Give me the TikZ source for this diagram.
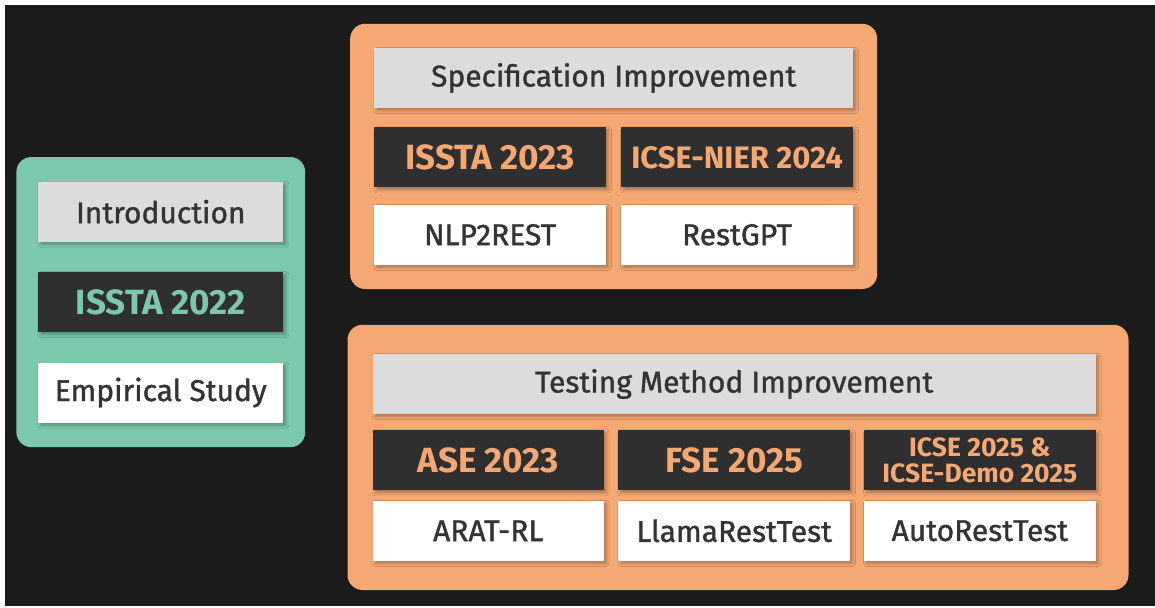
\documentclass[tikz,border=0pt]{standalone}
\usepackage{fontspec}
\setmainfont{Fira Sans}
\usetikzlibrary{positioning,fit,backgrounds,shadows.blur}

\definecolor{bgdark}{HTML}{1B1B1B}
\definecolor{mint}{HTML}{7CC8AD}
\definecolor{peach}{HTML}{F5A874}
\definecolor{lightgrey}{HTML}{DCDCDC}
\definecolor{boxdark}{HTML}{2E2F2E}
\definecolor{textdark}{HTML}{333333}

\begin{document}
\begin{tikzpicture}
  [x=1pt, y=-1pt,
   card/.style={rectangle, minimum height=60pt, inner sep=0pt, text=textdark,
     font=\fontsize{30}{34}\selectfont\addfontfeatures{FakeBold=1.2},
     blur shadow={shadow xshift=2.5pt, shadow yshift=-2.5pt, shadow blur radius=3pt, shadow opacity=30}},
   heading/.style={card, fill=lightgrey},
   venue/.style={card, fill=boxdark, font=\fontsize{35}{38}\selectfont\bfseries},
   tool/.style={card, fill=white},
   panel/.style={rectangle, rounded corners=15pt, inner sep=24pt}]

  \useasboundingbox (0,0) rectangle (1155,607);

  % introduction column
  \node[heading, minimum width=245pt] (intro) at (160.8,211.7) {Introduction};
  \node[venue, minimum width=245pt, text=mint] (issta22) [below=30pt of intro] {ISSTA 2022};
  \node[tool, minimum width=245pt] (empirical) [below=30pt of issta22] {Empirical Study};

  % specification
  \node[heading, minimum width=478.6pt] (spectitle) at (613.7,78) {Specification Improvement};
  \node[venue, minimum width=231.5pt, text=peach] (issta23)
    [below=19pt of spectitle.south west, anchor=north west] {ISSTA 2023};
  \node[venue, minimum width=232pt, text=peach, font=\fontsize{31}{34}\selectfont\bfseries] (nier24)
    [below=19pt of spectitle.south east, anchor=north east] {ICSE-NIER 2024};
  \node[tool, minimum width=231.5pt] (nlp2rest) [below=17pt of issta23] {NLP2REST};
  \node[tool, minimum width=232pt] (restgpt) [below=17pt of nier24] {RestGPT};

  % testing method
  \node[heading, minimum width=723pt] (testtitle) at (734.2,384) {Testing Method Improvement};
  \node[venue, minimum width=231pt, text=peach] (ase23)
    [below=16pt of testtitle.south west, anchor=north west] {ASE 2023};
  \node[venue, minimum width=231.7pt, text=peach] (fse25) [below=16pt of testtitle] {FSE 2025};
  \node[venue, minimum width=231.7pt, text=peach, align=center,
        font=\fontsize{26.5}{26}\selectfont\bfseries] (icse25)
    [below=16pt of testtitle.south east, anchor=north east] {ICSE 2025 \&\\ICSE-Demo 2025};
  \node[tool, minimum width=231pt] (aratrl) [below=10pt of ase23] {ARAT-RL};
  \node[tool, minimum width=231.7pt] (llamarest) [below=10pt of fse25] {LlamaRestTest};
  \node[tool, minimum width=231.7pt] (autorest) [below=10pt of icse25] {AutoRestTest};

  \begin{scope}[on background layer]
    \fill[white] (0,0) rectangle (1155,607);
    \fill[bgdark] (5,5) rectangle (1155,606);
    \node[panel, fill=mint, fit=(intro)(empirical), inner xsep=21.7pt, inner ysep=24.5pt] (intropanel) {};
    \node[panel, fill=peach, fit=(spectitle)(nlp2rest)(restgpt)] (specpanel) {};
    \node[panel, fill=peach, fit=(testtitle)(aratrl)(autorest),
          inner xsep=28.8pt, inner ysep=29pt, xshift=3.8pt] (testpanel) {};
  \end{scope}
\end{tikzpicture}
\end{document}
